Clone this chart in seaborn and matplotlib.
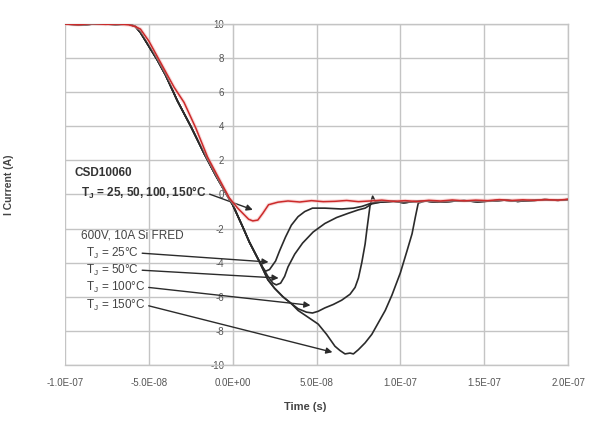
import numpy as np
import pandas as pd
import matplotlib
matplotlib.use("Agg")
import matplotlib.pyplot as plt
import seaborn as sns
from matplotlib.ticker import FuncFormatter

# Time points in ns, current in A
ramp_t = [-100, -90, -80, -70, -62, -58, -55, -50, -45, -40, -33, -25, -17, -10, -3, 0, 6, 10, 15.5]
ramp_i = [10.0, 9.95, 10.02, 9.97, 10.0, 9.85, 9.5, 8.7, 7.9, 7.0, 5.5, 4.0, 2.4, 1.1, -0.1, -0.6, -1.9, -2.8, -3.85]

tail_t = [90, 96, 102, 108, 115, 122, 130, 138, 146, 154, 162, 170, 178, 186, 194, 200]
tail_i = [-0.45, -0.4, -0.48, -0.42, -0.38, -0.45, -0.4, -0.36, -0.42, -0.38, -0.33, -0.4, -0.36, -0.3, -0.34, -0.3]

t25_t = [18, 19.6, 22, 25.6, 28, 31.5, 35, 39, 43, 47.6, 55, 65, 72, 77, 83, 88]
t25_i = [-4.3, -4.5, -4.4, -3.9, -3.3, -2.5, -1.8, -1.3, -1.0, -0.8, -0.8, -0.85, -0.8, -0.7, -0.5, -0.45]

t50_t = [21, 24, 26, 28.6, 31, 33, 37, 41.7, 48, 55, 62, 69, 75, 79, 83, 88]
t50_i = [-4.8, -5.2, -5.3, -5.2, -4.8, -4.25, -3.5, -2.85, -2.2, -1.7, -1.35, -1.1, -0.9, -0.8, -0.55, -0.45]

t100_t = [21, 25, 30, 35, 39, 44, 47.6, 51, 55, 60, 65, 70, 73, 75, 77, 79, 80, 82, 83.5, 85, 88]
t100_i = [-5.0, -5.5, -6.0, -6.4, -6.7, -6.9, -6.95, -6.85, -6.65, -6.45, -6.2, -5.85, -5.45, -4.9, -4.0, -2.9, -2.1, -0.6, -0.1, -0.4, -0.45]

t150_t = [21, 25, 30, 35, 39, 45, 51, 56, 61, 64, 67, 70, 72, 75, 79, 83, 87, 91, 95, 100, 104, 107, 109, 110.7]
t150_i = [-5.0, -5.5, -6.0, -6.4, -6.8, -7.2, -7.6, -8.2, -8.9, -9.15, -9.35, -9.3, -9.35, -9.1, -8.7, -8.2, -7.5, -6.8, -5.9, -4.6, -3.3, -2.3, -1.3, -0.5]

red_t = [-100, -92, -84, -76, -68, -62, -58, -55, -50, -45, -40, -35, -29, -22, -15, -8, -2, 3, 6, 9.5, 12, 15, 18, 21.4, 27,
         33, 40, 47, 54, 61, 68, 75, 82, 89, 96, 103, 110, 117, 124, 131, 138, 145, 152, 159, 166, 173, 180, 187, 194, 200]
red_i = [10.0, 9.96, 10.03, 9.98, 10.0, 9.95, 9.85, 9.7, 9.0, 8.1, 7.2, 6.3, 5.4, 3.9, 2.2, 0.9, -0.2, -0.8, -1.1, -1.45, -1.55, -1.5, -1.1, -0.6, -0.45,
         -0.38, -0.44, -0.36, -0.42, -0.4, -0.35, -0.42, -0.38, -0.33, -0.4, -0.36, -0.41, -0.34, -0.38, -0.32, -0.37, -0.33, -0.36, -0.3, -0.35, -0.31, -0.34, -0.3, -0.33, -0.28]

x_ticks = [-1.0e-7, -5.0e-8, 0.0, 5.0e-8, 1.0e-7, 1.5e-7, 2.0e-7]
y_ticks = [-10, -8, -6, -4, -2, 0, 2, 4, 6, 8, 10]

black_curves = {
    "25": (t25_t, t25_i, 88),
    "50": (t50_t, t50_i, 88),
    "100": (t100_t, t100_i, 88),
    "150": (t150_t, t150_i, 110.7),
}

rows = []
for name, (ct, ci, join) in black_curves.items():
    tt = ramp_t + ct + [x for x in tail_t if x > join]
    ii = ramp_i + ci + [y for x, y in zip(tail_t, tail_i) if x > join]
    for a, b in zip(tt, ii):
        rows.append({"curve": name, "time": a * 1e-9, "current": b})
for a, b in zip(red_t, red_i):
    rows.append({"curve": "sic", "time": a * 1e-9, "current": b})
df = pd.DataFrame(rows)

sns.set_style("white")
plt.rcParams["font.family"] = ["Liberation Sans", "DejaVu Sans"]
plt.rcParams["mathtext.default"] = "regular"
plt.rcParams["axes.unicode_minus"] = False

fig = plt.figure(figsize=(6, 4.25), dpi=100)
ax = fig.add_axes([65 / 600, 1 - 365 / 425, 503 / 600, 341 / 425])

palette = {"25": "#2b2b2b", "50": "#2b2b2b", "100": "#2b2b2b", "150": "#2b2b2b"}
sns.lineplot(data=df[df.curve != "sic"], x="time", y="current", hue="curve", palette=palette,
             estimator=None, sort=False, lw=1.2, legend=False, ax=ax, zorder=3)
red = df[df.curve == "sic"]
sns.lineplot(data=red, x="time", y="current", color="#f4b4b4",
             estimator=None, sort=False, lw=2.6, legend=False, ax=ax, zorder=3.5, alpha=0.5)
sns.lineplot(data=red, x="time", y="current", color="#cc2a2a",
             estimator=None, sort=False, lw=1.1, legend=False, ax=ax, zorder=4)

ax.set_xlim(-1.0e-7, 2.0e-7)
ax.set_ylim(-10, 10)
ax.set_xticks(x_ticks)
ax.set_yticks(y_ticks)
ax.xaxis.set_major_formatter(FuncFormatter(lambda v, p: f"{v:.1E}"))
ax.yaxis.set_major_formatter(FuncFormatter(lambda v, p: f"{v:.0f}"))
ax.grid(True, color="#c4c4c4", lw=1.0)
ax.set_xlabel("")
ax.set_ylabel("")

for s in ["top", "right", "bottom"]:
    ax.spines[s].set_color("#c4c4c4")
    ax.spines[s].set_linewidth(1.0)
ax.spines["left"].set_position(("data", 0))
ax.spines["left"].set_color("#c4c4c4")
ax.tick_params(axis="x", length=0, pad=9, labelsize=7, labelcolor="#555555")
ax.tick_params(axis="y", length=3, color="#c4c4c4", pad=3, labelsize=7, labelcolor="#555555")

fig.text(0.015, 0.565, "I Current (A)", rotation=90, ha="center", va="center",
         fontsize=7.5, fontweight="bold", color="#444444")
fig.text(305 / 600, 1 - 407 / 425, "Time (s)", ha="center", va="center",
         fontsize=8, fontweight="bold", color="#444444")

arrow = dict(arrowstyle="-|>", color="#2b2b2b", lw=1.0, shrinkA=0, shrinkB=0,
             mutation_scale=9, relpos=(1, 0.5))
ax.text(-94.6e-9, 1.26, "CSD10060", fontsize=8.5, fontweight="bold", color="#333333",
        ha="left", va="center")
ax.annotate("T$_J$ = 25, 50, 100, 150°C", xy=(12e-9, -0.9), xytext=(-90.5e-9, 0.09),
            fontsize=8.5, fontweight="bold", color="#333333", ha="left", va="center",
            arrowprops=arrow)
ax.text(-90.5e-9, -2.38, "600V, 10A Si FRED", fontsize=8.5, color="#444444",
        ha="left", va="center")

labels = ["T$_J$ = 25°C", "T$_J$ = 50°C", "T$_J$ = 100°C", "T$_J$ = 150°C"]
label_y = [-3.43, -4.43, -5.43, -6.48]
tips = [(21.4e-9, -3.96), (27.4e-9, -4.9), (46.4e-9, -6.5), (59.5e-9, -9.25)]
for lab, ly, tip in zip(labels, label_y, tips):
    ax.annotate(lab, xy=tip, xytext=(-87.5e-9, ly), fontsize=8.5, color="#444444",
                ha="left", va="center", arrowprops=arrow)

fig.savefig("out.png", dpi=100)
